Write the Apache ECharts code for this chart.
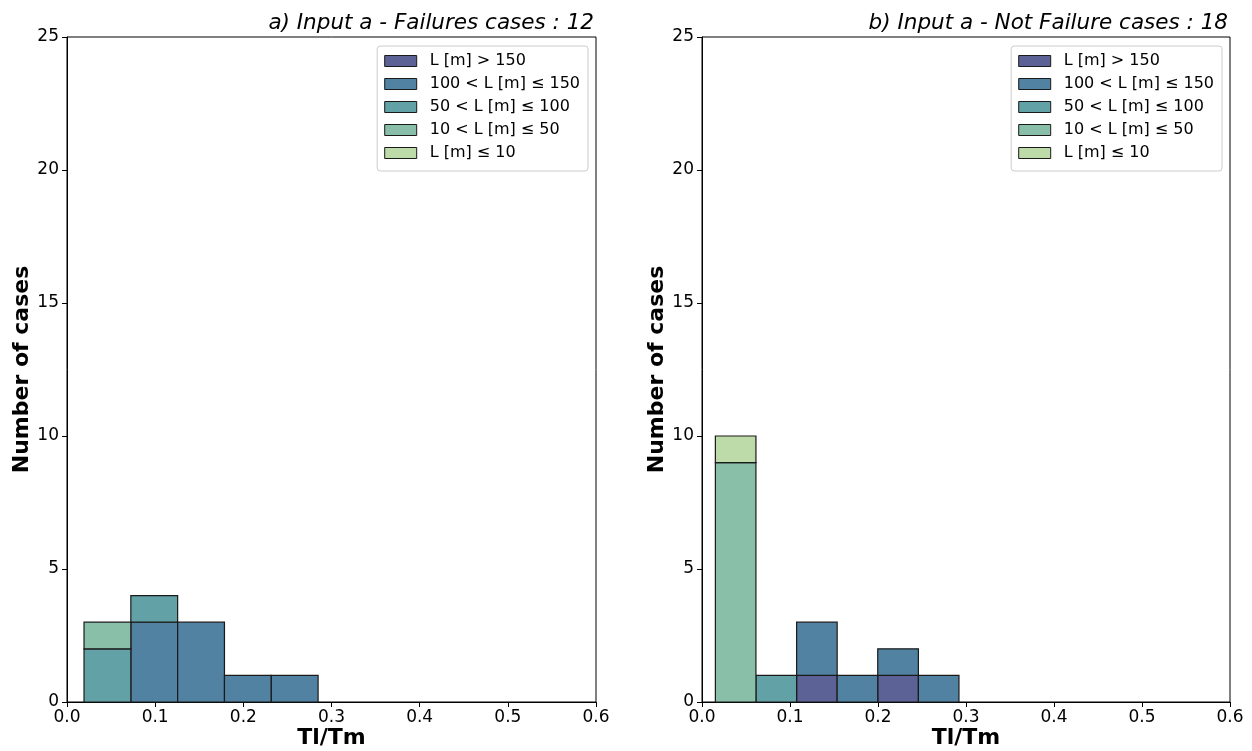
<!DOCTYPE html>
<html>
<head>
<meta charset="utf-8">
<script src="https://cdn.jsdelivr.net/npm/echarts@6/dist/echarts.min.js"></script>
<style>
html,body{margin:0;padding:0;background:#fff;}
#chart{width:1252px;height:751px;}
</style>
</head>
<body>
<div id="chart"></div>
<script>
// ---- data ----
const categories = ['L [m] > 150', '100 < L [m] \u2264 150', '50 < L [m] \u2264 100', '10 < L [m] \u2264 50', 'L [m] \u2264 10'];
const colors = ['#5d6296', '#5182a2', '#62a2a6', '#89bea9', '#bcdba8'];

// panel a) Failures
const binEdgesA = [0.0193, 0.0724, 0.1255, 0.1786, 0.2317, 0.2848];
const failGt150 = [0, 0, 0, 0, 0];
const fail100to150 = [0, 3, 3, 1, 1];
const fail50to100 = [2, 1, 0, 0, 0];
const fail10to50 = [1, 0, 0, 0, 0];
const failLe10 = [0, 0, 0, 0, 0];

// panel b) Not failures
const binEdgesB = [0.0152, 0.0613, 0.1075, 0.1536, 0.1997, 0.2459, 0.2920];
const notGt150 = [0, 0, 1, 0, 1, 0];
const not100to150 = [0, 0, 2, 1, 1, 1];
const not50to100 = [0, 1, 0, 0, 0, 0];
const not10to50 = [9, 0, 0, 0, 0, 0];
const notLe10 = [1, 0, 0, 0, 0, 0];

const xTicks = [0, 0.1, 0.2, 0.3, 0.4, 0.5, 0.6];
const yTicks = [0, 5, 10, 15, 20, 25];

const titleA = 'a) Input a - Failures cases : 12';
const titleB = 'b) Input a - Not Failure cases : 18';

// ---- build ----
const FONT = 'DejaVu Sans';
function stackRects(edges, layers) {
  const base = edges.slice(1).map(() => 0);
  return layers.map(counts => {
    const out = [];
    counts.forEach((c, i) => {
      if (c > 0) out.push([edges[i], edges[i + 1], base[i], base[i] + c]);
      base[i] += c;
    });
    return out;
  });
}
const rectsA = stackRects(binEdgesA, [failGt150, fail100to150, fail50to100, fail10to50, failLe10]);
const rectsB = stackRects(binEdgesB, [notGt150, not100to150, not50to100, not10to50, notLe10]);

function renderItem(params, api) {
  const p0 = api.coord([api.value(0), api.value(3)]);
  const p1 = api.coord([api.value(1), api.value(2)]);
  return {
    type: 'rect',
    shape: { x: p0[0], y: p0[1], width: p1[0] - p0[0], height: p1[1] - p0[1] },
    style: { fill: api.visual('color'), stroke: '#1a1a1a', lineWidth: 1.2 }
  };
}

const grids = [
  { left: 67, top: 37, width: 529, height: 665 },
  { left: 702, top: 37, width: 528, height: 665 }
];

function xAxis(idx) {
  return {
    type: 'value', gridIndex: idx, min: 0, max: 0.6, interval: 0.1,
    name: 'Tl/Tm', nameLocation: 'middle', nameGap: 25, nameMoveOverlap: false,
    nameTextStyle: { fontFamily: FONT, fontWeight: 'bold', fontSize: 22, color: '#000' },
    axisLine: { show: true, onZero: false, lineStyle: { color: '#000', width: 1 } },
    axisTick: { show: true, length: 5, lineStyle: { color: '#000' } },
    axisLabel: { fontFamily: FONT, fontSize: 17, color: '#000', margin: 7,
      formatter: v => xTicks.some(t => Math.abs(t - v) < 1e-9) ? v.toFixed(1) : '' },
    splitLine: { show: false }
  };
}
function yAxis(idx) {
  return {
    type: 'value', gridIndex: idx, min: 0, max: 25, interval: 5,
    name: 'Number of cases', nameLocation: 'middle', nameGap: 34, nameRotate: 90, nameMoveOverlap: false,
    nameTextStyle: { fontFamily: FONT, fontWeight: 'bold', fontSize: 22, color: '#000' },
    axisLine: { show: true, onZero: false, lineStyle: { color: '#000', width: 1 } },
    axisTick: { show: true, length: 5, lineStyle: { color: '#000' } },
    axisLabel: { fontFamily: FONT, fontSize: 17, color: '#000', margin: 8,
      formatter: v => yTicks.includes(v) ? String(v) : '' },
    splitLine: { show: false }
  };
}

const series = [];
[rectsA, rectsB].forEach((rects, p) => {
  rects.forEach((data, k) => {
    series.push({
      type: 'custom', name: categories[k],
      xAxisIndex: p, yAxisIndex: p,
      itemStyle: { color: colors[k], borderColor: '#1a1a1a', borderWidth: 1 },
      renderItem: renderItem,
      encode: { x: [0, 1], y: [2, 3] },
      data: data,
      silent: true
    });
  });
});

function legend(right) {
  return {
    orient: 'vertical', right: right, top: 46,
    data: categories.map(n => ({ name: n, icon: 'rect' })),
    itemWidth: 32, itemHeight: 11, itemGap: 7,
    padding: [7, 8, 10, 7],
    borderColor: '#cccccc', borderWidth: 1, borderRadius: 3,
    backgroundColor: '#fff',
    selectedMode: false,
    itemStyle: { borderColor: '#1a1a1a', borderWidth: 1 },
    textStyle: { fontFamily: FONT, fontSize: 16, color: '#000', lineHeight: 16, padding: [0, 0, 0, 8] }
  };
}

const titleStyle = { fontFamily: FONT, fontStyle: 'italic', fontWeight: 'normal', fontSize: 21.5, color: '#000' };
const option = {
  backgroundColor: '#fff',
  animation: false,
  title: [
    { text: titleA, right: 1252 - 594 - 5, top: 7, textStyle: titleStyle },
    { text: titleB, right: 1252 - 1228 - 5, top: 7, textStyle: titleStyle }
  ],
  grid: grids.map(g => Object.assign({ show: true, borderColor: '#000', borderWidth: 1, backgroundColor: 'transparent', outerBoundsMode: 'none', containLabel: false }, g)),
  xAxis: [xAxis(0), xAxis(1)],
  yAxis: [yAxis(0), yAxis(1)],
  legend: [legend(1252 - 588), legend(1252 - 1222)],
  series: series
};

const chart = echarts.init(document.getElementById('chart'), null, { renderer: 'canvas' });
chart.setOption(option);
</script>
</body>
</html>
